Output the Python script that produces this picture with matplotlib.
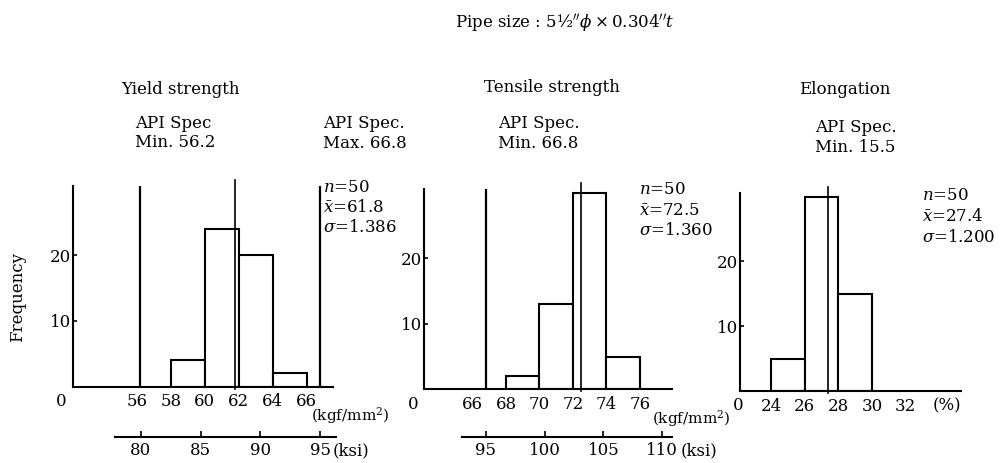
import numpy as np
import matplotlib
matplotlib.use('Agg')
import matplotlib.pyplot as plt

plt.rcParams['font.family'] = 'DejaVu Serif'
plt.rcParams['mathtext.fontset'] = 'dejavuserif'
plt.rcParams['font.size'] = 12

KSI = 1.42233  # 1 kgf/mm2 in ksi

# Yield strength (kgf/mm2)
ys_edges = [58, 60, 62, 64, 66]
ys_counts = [4, 24, 20, 2]
ys_mean, ys_sigma = 61.8, 1.386
ys_spec = [56.2, 66.8]

# Tensile strength (kgf/mm2)
ts_edges = [68, 70, 72, 74, 76]
ts_counts = [2, 13, 30, 5]
ts_mean, ts_sigma = 72.5, 1.360
ts_spec = [66.8]

# Elongation (%)
el_edges = [24, 26, 28, 30]
el_counts = [5, 30, 15]
el_mean, el_sigma = 27.4, 1.200
el_spec = [15.5]

n_samples = 50

W, H = 1002, 463
fig = plt.figure(figsize=(W / 100, H / 100), dpi=100)


def px_axes(x0, x1, ytop, ybot):
    return fig.add_axes([x0 / W, 1 - ybot / H, (x1 - x0) / W, (ybot - ytop) / H])


def fig_text(x, y, s, **kw):
    kw.setdefault('va', 'center')
    fig.text(x / W, 1 - y / H, s, **kw)


def histogram(ax, edges, counts, mean, specs, xlim, xticks, zero_dx=-12):
    ax.bar(edges[:-1], counts, width=np.diff(edges), align='edge',
           color='white', edgecolor='black', linewidth=1.5, zorder=2)
    for s in specs:
        if xlim[0] < s < xlim[1]:
            ax.axvline(s, color='black', lw=1.6, zorder=3)
    # mean line pokes a little above the frame
    ax.axvline(mean, ymin=-0.01, ymax=1.03, color='black', lw=1.2,
               clip_on=False, zorder=3)
    ax.set_xlim(*xlim)
    ax.set_ylim(0, 30.5)
    ax.set_xticks(xticks)
    ax.set_yticks([10, 20])
    for side in ['top', 'right']:
        ax.spines[side].set_visible(False)
    for side in ['left', 'bottom']:
        ax.spines[side].set_linewidth(1.5)
    ax.tick_params(axis='x', length=0, pad=5)
    ax.tick_params(axis='y', direction='in', length=3, width=1.2, pad=1.5)
    ax.annotate('0', xy=(0, 0), xycoords='axes fraction', xytext=(zero_dx, -15),
                textcoords='offset pixels', ha='center', va='center')


def ksi_axis(ax, loc, bounds, ticks, gap):
    sec = ax.secondary_xaxis(loc, functions=(lambda v: v * KSI, lambda v: v / KSI))
    sec.set_xticks(ticks)
    sec.spines['bottom'].set_bounds(*bounds)
    sec.spines['bottom'].set_linewidth(1.5)
    sec.tick_params(direction='in', length=4, width=1.2, pad=4)
    ax.annotate('(ksi)', xy=(ticks[-1] / KSI, loc), xycoords=('data', 'axes fraction'),
                xytext=(gap, -14), textcoords='offset pixels', ha='left', va='center')


def kgf_label(ax, dx, dy):
    ax.annotate('(kgf/mm$^2$)', xy=(1, 0), xycoords='axes fraction', xytext=(dx, dy),
                textcoords='offset pixels', ha='left', va='center', fontsize=11)


def stats(x, y0, mean, sigma):
    lines = [r'$n$=%d' % n_samples, r'$\bar{x}$=%.1f' % mean, r'$\sigma$=%.3f' % sigma]
    for i, s in enumerate(lines):
        fig_text(x, y0 + i * 20.5, s, ha='left')


# yield strength
ax1 = px_axes(73, 333, 186, 386.5)
histogram(ax1, ys_edges, ys_counts, ys_mean, ys_spec, (52.25, 67.55), [56, 58, 60, 62, 64, 66])
ksi_axis(ax1, -0.25, (77.8, 96.3), [80, 85, 90, 95], 13)
kgf_label(ax1, -22, -29)
stats(323, 187, ys_mean, ys_sigma)

# tensile strength
ax2 = px_axes(424, 671.7, 189.3, 389.3)
histogram(ax2, ts_edges, ts_counts, ts_mean, ts_spec, (63.1, 77.9), [66, 68, 70, 72, 74, 76],
          zero_dx=-11)
ksi_axis(ax2, -0.237, (93.0, 110.8), [95, 100, 105, 110], 18)
kgf_label(ax2, -20, -29)
stats(639, 190, ts_mean, ts_sigma)

# elongation
ax3 = px_axes(740, 960.7, 193.3, 391)
histogram(ax3, el_edges, el_counts, el_mean, el_spec, (22.16, 35.27), [24, 26, 28, 30, 32],
          zero_dx=-2)
ax3.annotate('(%)', xy=(1, 0), xycoords='axes fraction', xytext=(-14, -15),
             textcoords='offset pixels', ha='center', va='center')
stats(922, 196, el_mean, el_sigma)

fig_text(18, 297, 'Frequency', rotation=90, ha='center')

fig_text(565, 24, r'Pipe size : 5½$^{\prime\prime}\phi\times$0.304$^{\prime\prime}t$', ha='center')

fig_text(180, 90, 'Yield strength', ha='center')
fig_text(135, 123, 'API Spec', ha='left')
fig_text(135, 143, 'Min. 56.2', ha='left')
fig_text(323, 124, 'API Spec.', ha='left')
fig_text(323, 144, 'Max. 66.8', ha='left')

fig_text(552, 87, 'Tensile strength', ha='center')
fig_text(498, 124, 'API Spec.', ha='left')
fig_text(498, 144, 'Min. 66.8', ha='left')

fig_text(845, 90, 'Elongation', ha='center')
fig_text(815, 127, 'API Spec.', ha='left')
fig_text(815, 147, 'Min. 15.5', ha='left')

fig.savefig('out.png', dpi=100)
